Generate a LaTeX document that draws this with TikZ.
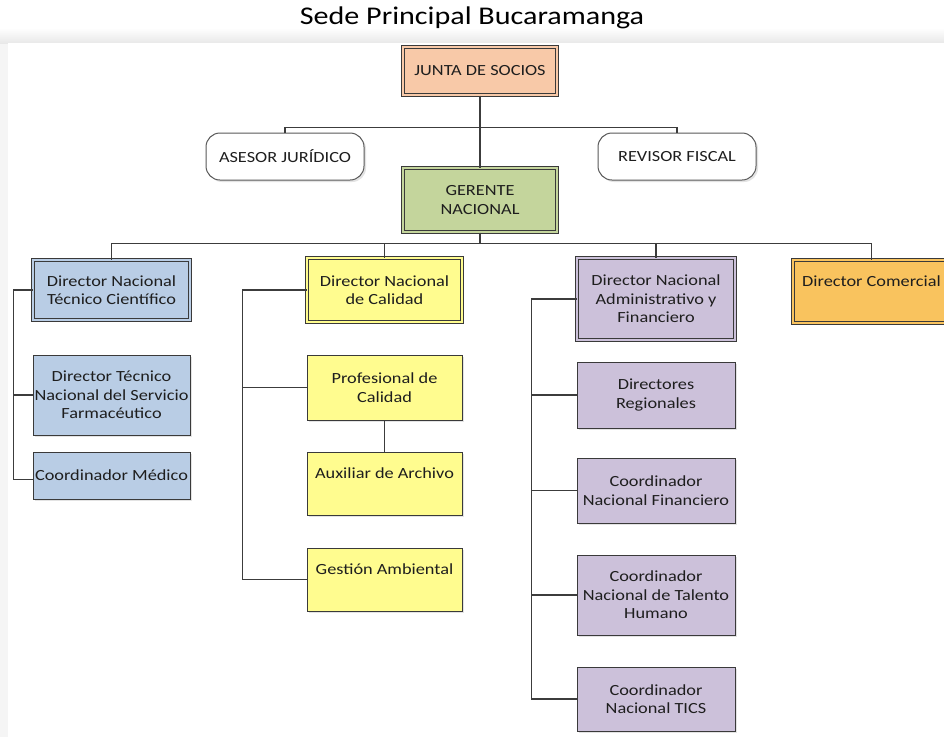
\documentclass[tikz,border=0pt]{standalone}
\usepackage{fontspec}
\setmainfont{Carlito}[FakeStretch=1.18]
\usetikzlibrary{shadows}
\definecolor{boxline}{HTML}{3A3A3A}
\definecolor{wire}{HTML}{3C3C3C}
\definecolor{txt}{HTML}{1E1E1E}
\definecolor{peach}{HTML}{F8C9A8}
\definecolor{olive}{HTML}{C4D59C}
\definecolor{bluebox}{HTML}{B9CDE5}
\definecolor{yellowbox}{HTML}{FFFC8F}
\definecolor{purplebox}{HTML}{CCC1DA}
\definecolor{orangebox}{HTML}{F9C35E}
\newcommand{\boxfont}{\fontsize{15.5}{18.5}\selectfont}
\begin{document}
\begin{tikzpicture}[x=1pt,y=-1pt,
  box/.style={draw=boxline, line width=1pt, align=center, inner sep=1pt,
    font=\boxfont, text=txt,
    drop shadow={opacity=0.22, shadow xshift=2pt, shadow yshift=-2pt}},
  dbox/.style={box, double=#1, double distance=1.8pt, fill=#1},
  sbox/.style={box, fill=#1},
  rbox/.style={box, draw=gray!70!black, fill=white, rounded corners=14pt},
  wirestyle/.style={draw=wire, line width=1.3pt}]
\useasboundingbox (0,0) rectangle (944,737);
\clip (0,0) rectangle (944,737);

% page and panel
\fill[gray!8] (0,30) rectangle (944,737);
\shade[top color=white, bottom color=gray!18] (0,28) rectangle (944,43);
\fill[white] (8,43) rectangle (944,737);

% title
\node[font=\fontsize{25.5}{30}\selectfont, text=black] (title) at (472,18) {Sede Principal Bucaramanga};

% top level
\node[dbox=peach, minimum width=154, minimum height=48] (js) at (480,71) {JUNTA DE SOCIOS};
\node[rbox, minimum width=158, minimum height=47] (aj) at (285,156.5) {ASESOR JURÍDICO};
\node[rbox, minimum width=158, minimum height=47] (rf) at (677,156.5) {REVISOR FISCAL};
\node[dbox=olive, minimum width=154, minimum height=64] (gn) at (480,200) {GERENTE\\NACIONAL};

% technical branch
\node[dbox=bluebox, minimum width=157, minimum height=60] (dt) at (111.5,290) {Director Nacional\\Técnico Científico};
\node[sbox=bluebox, minimum width=157, minimum height=80] (df) at (111.5,395) {Director Técnico\\Nacional del Servicio\\Farmacéutico};
\node[sbox=bluebox, minimum width=157, minimum height=47] (cm) at (111.5,475.5) {Coordinador Médico};

% quality branch
\node[dbox=yellowbox, minimum width=155, minimum height=64] (dq) at (384.5,290) {Director Nacional\\de Calidad};
\node[sbox=yellowbox, minimum width=155, minimum height=65] (pc) at (384.5,387.5) {Profesional de\\Calidad};
\node[sbox=yellowbox, minimum width=155, minimum height=63] (ax) at (384.5,483.5) {Auxiliar de Archivo\\[-3pt]\strut};
\node[sbox=yellowbox, minimum width=155, minimum height=63] (ga) at (384.5,579.5) {Gestión Ambiental\\[-3pt]\strut};

% administrative branch
\node[dbox=purplebox, minimum width=158, minimum height=82] (da) at (656,299) {Director Nacional\\Administrativo y\\Financiero};
\node[sbox=purplebox, minimum width=158, minimum height=66] (dr) at (656,395) {Directores\\Regionales};
\node[sbox=purplebox, minimum width=158, minimum height=65] (cf) at (656,490.5) {Coordinador\\Nacional Financiero};
\node[sbox=purplebox, minimum width=158, minimum height=80] (th) at (656,595) {Coordinador\\Nacional de Talento\\Humano};
\node[sbox=purplebox, minimum width=158, minimum height=64] (tc) at (656,699) {Coordinador\\Nacional TICS};

% commercial branch
\node[dbox=orangebox, minimum width=157, minimum height=63] (dc) at (871.5,291.5) {Director Comercial\\[-3pt]\strut};

% connectors: board level
\draw[wirestyle] (js.south) -- (gn.north);
\draw[wirestyle] (aj.north) -- ++(0,-5) coordinate (bus1) -| (rf.north);

% connectors: directors bus
\draw[wirestyle] (gn.south) -- ++(0,11) coordinate (bus2);
\draw[wirestyle] (dt.north) |- (bus2) -| (dc.north);
\draw[wirestyle] (dq.north) -- (dq.north |- bus2);
\draw[wirestyle] (da.north) -- (da.north |- bus2);

% connectors: technical branch
\draw[wirestyle] (dt.west) -- ++(-19,0) coordinate (lt) |- ([yshift=-4pt]cm.west);
\draw[wirestyle] (df.west) -- (df.west -| lt);

% connectors: quality branch
\draw[wirestyle] (dq.west) -- ++(-64,0) coordinate (lq) |- (ga.west);
\draw[wirestyle] (pc.west) -- (pc.west -| lq);
\draw[wirestyle] (pc.south) -- (ax.north);

% connectors: administrative branch
\draw[wirestyle] (da.west) -- ++(-45,0) coordinate (la) |- (tc.west);
\draw[wirestyle] (dr.west) -- (dr.west -| la);
\draw[wirestyle] (cf.west) -- (cf.west -| la);
\draw[wirestyle] (th.west) -- (th.west -| la);
\end{tikzpicture}
\end{document}
